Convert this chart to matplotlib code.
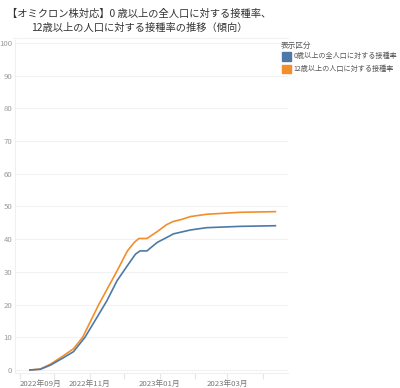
import matplotlib
matplotlib.use('Agg')
import matplotlib.pyplot as plt
import matplotlib.dates as mdates
from matplotlib.lines import Line2D
from matplotlib.patches import Rectangle
import numpy as np

plt.rcParams['font.family'] = ['Noto Sans CJK JP', 'DejaVu Sans']

# Data
dates_all = ['2022-09-10', '2022-09-19', '2022-09-28', '2022-10-09', '2022-10-18',
             '2022-10-28', '2022-11-08', '2022-11-16', '2022-11-25', '2022-12-04',
             '2022-12-11', '2022-12-15', '2022-12-21', '2022-12-30', '2023-01-10',
             '2023-01-13', '2023-01-28', '2023-02-11', '2023-03-12', '2023-04-12']
rate_all = [0.0, 0.2, 1.5, 3.7, 5.6, 10.0, 16.4, 21.1, 27.3, 31.9,
            35.4, 36.4, 36.4, 39.0, 41.0, 41.6, 42.8, 43.5, 43.9, 44.1]

dates_12 = ['2022-09-10', '2022-09-19', '2022-09-28', '2022-10-09', '2022-10-18',
            '2022-10-26', '2022-11-09', '2022-11-25', '2022-12-04', '2022-12-10',
            '2022-12-14', '2022-12-21', '2022-12-30', '2023-01-07', '2023-01-13',
            '2023-01-19', '2023-01-28', '2023-02-11', '2023-03-12', '2023-04-12']
rate_12 = [0.0, 0.3, 1.8, 4.3, 6.5, 10.0, 20.0, 30.3, 36.4, 39.0,
           40.2, 40.2, 42.3, 44.4, 45.4, 45.9, 46.9, 47.6, 48.2, 48.4]

series_names = ['0歳以上の全人口に対する接種率', '12歳以上の人口に対する接種率']
series_colors = ['#4e79a7', '#f28e2b']
title_txt = '【オミクロン株対応】0 歳以上の全人口に対する接種率、\n12歳以上の人口に対する接種率の推移（傾向）'

figg = plt.figure(figsize=(4.0, 3.88), dpi=100)
axx = figg.add_axes([0.0375, 0.038, 0.6825, 0.860])

d_all = np.array(dates_all, dtype='datetime64[D]')
d_12 = np.array(dates_12, dtype='datetime64[D]')
axx.plot(d_all, rate_all, color=series_colors[0], lw=1.2, zorder=3)
axx.plot(d_12, rate_12, color=series_colors[1], lw=1.2, zorder=2)

axx.set_ylim(-1, 101)
axx.set_xlim(np.datetime64('2022-08-28'), np.datetime64('2023-04-23'))
axx.set_yticks(np.arange(0, 101, 10))
axx.yaxis.grid(True, color='#f2f2f2', lw=0.8)
axx.set_axisbelow(True)

axx.xaxis.set_major_locator(mdates.MonthLocator())
def month_fmt(x, pos):
    d = mdates.num2date(x)
    return d.strftime('%Y年%m月') if d.month % 2 == 1 else ''
axx.xaxis.set_major_formatter(plt.FuncFormatter(month_fmt))

for s in ['top', 'right']:
    axx.spines[s].set_visible(False)
axx.spines['left'].set_color('#f0f0f0')
axx.spines['bottom'].set_color('#f0f0f0')
axx.tick_params(axis='y', length=0, labelsize=5.6, labelcolor='#9a9a9a', pad=2)
axx.tick_params(axis='x', length=4, color='#e6e6e6', labelsize=5.6, labelcolor='#777777', pad=1)
for lab in axx.get_xticklabels():
    if lab.get_text().startswith('2022年09'):
        lab.set_horizontalalignment('left')

# title
figg.text(0.348, 0.977, title_txt, ha='center', va='top', fontsize=7.4, color='#333333',
          linespacing=1.45)
figg.add_artist(Line2D([0.033, 0.72], [0.902, 0.902], color='#f0f0f0', lw=0.8))

# legend
figg.text(0.702, 0.882, '表示区分', fontsize=5.5, color='#555555', va='center')
for i, nm in enumerate(series_names):
    yy = 0.855 - i * 0.033
    figg.add_artist(Rectangle((0.705, yy - 0.011), 0.022, 0.022, color=series_colors[i],
                              transform=figg.transFigure))
    figg.text(0.733, yy, nm, fontsize=5.1, color='#555555', va='center')

figg.savefig('out.png', dpi=100)
